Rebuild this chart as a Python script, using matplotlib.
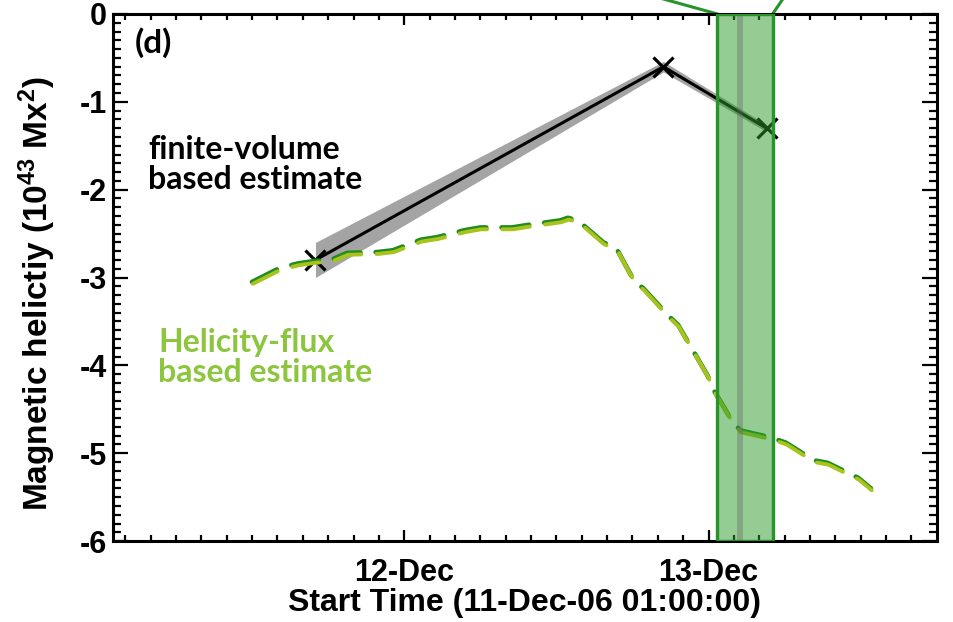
import matplotlib
matplotlib.use("Agg")
import matplotlib.pyplot as plt
from matplotlib.ticker import FixedLocator, MultipleLocator
import matplotlib.transforms as mtransforms

plt.rcParams["axes.unicode_minus"] = False
plt.rcParams["lines.scale_dashes"] = False
plt.rcParams["mathtext.default"] = "regular"

# hours since 11-Dec-06 01:00:00
fv_hours = [16.0, 43.44, 51.57]
fv_values = [-2.80, -0.60, -1.30]
fv_errors = [0.20, 0.06, 0.04]

flux_hours = [11.0, 13.2, 14.6, 16.0, 17.2, 18.5, 20.9, 22.1, 24.3, 25.6, 27.8, 29.0,
              31.5, 32.8, 35.3, 35.9, 36.7, 38.7, 39.7, 41.1, 41.9, 43.8, 44.6, 46.9,
              47.4, 48.8, 49.5, 51.9, 53.1, 55.3, 56.4, 58.8, 59.8]
flux_values = [-3.05, -2.89, -2.84, -2.81, -2.80, -2.72, -2.71, -2.69, -2.57, -2.54, -2.46, -2.43,
               -2.43, -2.40, -2.35, -2.32, -2.35, -2.60, -2.66, -3.03, -3.13, -3.43, -3.54, -4.11,
               -4.28, -4.62, -4.74, -4.82, -4.88, -5.08, -5.11, -5.28, -5.40]

band_span = (47.7, 52.05)
band_mark = (49.28, 49.75)

tick_hours = [23, 47]
tick_labels = ["12-Dec", "13-Dec"]

fig = plt.figure(figsize=(9.54, 6.22), dpi=100)
ax = fig.add_axes([0.118, 0.130, 0.864, 0.8475])

ax.fill_between(fv_hours, [v - e for v, e in zip(fv_values, fv_errors)],
                [v + e for v, e in zip(fv_values, fv_errors)],
                color="#a4a4a4", lw=0, zorder=2)
ax.plot(fv_hours, fv_values, color="black", lw=2.2, marker="x", ms=15, mew=2.3, zorder=3)

# dashed flux curve: dark green shadow + yellow-green on top
shift = mtransforms.offset_copy(ax.transData, fig=fig, x=0.6, y=-1.3, units="points")
ax.plot(flux_hours, flux_values, color="#1e8c1e", lw=3.4, dashes=(20, 11), zorder=4,
        dash_capstyle="round")
ax.plot(flux_hours, flux_values, color="#a9c21c", lw=2.8, dashes=(20, 11), zorder=5,
        transform=shift, dash_capstyle="round")

# highlighted interval
ax.axvspan(*band_span, facecolor="#2a9a2a", alpha=0.5, edgecolor="none", zorder=6)
ax.axvspan(*band_mark, facecolor="#606060", alpha=0.35, edgecolor="none", zorder=6)
ax.axvspan(*band_span, facecolor="none", edgecolor="#27942a", lw=2.4, zorder=7)
xt = ax.get_xaxis_transform()
ax.plot([band_span[0], 43.2], [1.0, 1.03], color="#27942a", lw=2.2, transform=xt, clip_on=False)
ax.plot([band_span[1], 52.9], [1.0, 1.03], color="#27942a", lw=2.2, transform=xt, clip_on=False)

ax.set_xlim(0, 65)
ax.set_ylim(-6, 0)

ax.xaxis.set_major_locator(FixedLocator(tick_hours))
ax.set_xticklabels(tick_labels)
ax.xaxis.set_minor_locator(FixedLocator(list(range(1, 65, 2))))
ax.yaxis.set_major_locator(MultipleLocator(1))
ax.yaxis.set_minor_locator(MultipleLocator(0.1))

for s in ax.spines.values():
    s.set_linewidth(2.2)
ax.tick_params(which="both", direction="in", top=True, right=True, width=1.6, colors="black")
ax.tick_params(axis="y", which="major", length=11, pad=4)
ax.tick_params(axis="y", which="minor", length=5.5)
ax.tick_params(axis="x", which="major", length=8, pad=12)
ax.tick_params(axis="x", which="minor", length=4)
for lab in ax.get_xticklabels() + ax.get_yticklabels():
    lab.set_fontfamily("Liberation Sans")
    lab.set_fontweight("bold")
    lab.set_fontsize(22)

ax.set_xlabel("Start Time (11-Dec-06 01:00:00)", family="Liberation Sans", fontweight="bold",
              fontsize=23, labelpad=0)
ax.set_ylabel("Magnetic helictiy (10$^{43}$ Mx$^{2}$)", family="Liberation Sans",
              fontweight="bold", fontsize=24)
ax.yaxis.set_label_coords(-0.066, 0.47)

ax.text(1.77, -0.15, "(d)", family="Lato", fontweight="bold", fontsize=24, va="top", zorder=8)
ax.text(2.8, -1.38, "finite-volume\nbased estimate", family="Lato", fontweight="bold",
        fontsize=23, va="top", zorder=8, linespacing=1.05)
ax.text(3.6, -3.57, "Helicity-flux\nbased estimate", family="Lato", fontweight="bold",
        fontsize=23, va="top", color="#8cc63e", zorder=8, linespacing=1.05)

fig.savefig("out.png", dpi=100)
